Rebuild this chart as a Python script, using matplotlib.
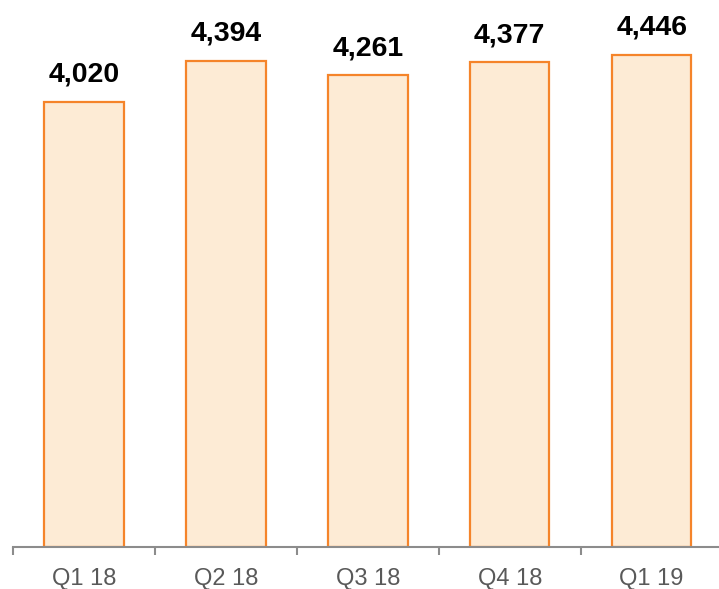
import matplotlib
matplotlib.use("Agg")
import matplotlib.pyplot as plt

categories = ["Q1 18", "Q2 18", "Q3 18", "Q4 18", "Q1 19"]
values = [4020, 4394, 4261, 4377, 4446]

W, H = 719, 589
fig = plt.figure(figsize=(W / 100, H / 100), dpi=100)
x0 = 13 / W
x1 = 722.6 / W
y0 = (H - 547) / H
ax = fig.add_axes([x0, y0, x1 - x0, 547 / H])

xs = list(range(len(categories)))
ax.bar(xs, values, width=0.56, color="#FDEBD5", edgecolor="#F5842A", linewidth=1.6, zorder=2)
ax.set_xlim(-0.5, len(categories) - 0.5)
ax.set_ylim(0, 4941)

for x, v in zip(xs, values):
    ax.annotate(f"{v:,}", (x, v), xytext=(0, 14), textcoords="offset pixels",
                ha="center", va="bottom", fontsize=20.5, fontweight="bold",
                family="Liberation Sans", color="black")

for s in ["top", "right", "left"]:
    ax.spines[s].set_visible(False)
ax.spines["bottom"].set_color("#8C8C8C")
ax.spines["bottom"].set_linewidth(1.5)
ax.set_yticks([])
ax.set_xticks([i - 0.5 for i in range(len(categories) + 1)], minor=False)
ax.set_xticklabels([])
ax.tick_params(axis="x", which="major", length=6, width=1.5, color="#8C8C8C", direction="out")
ax.set_xticks(xs, minor=True)
ax.set_xticklabels(categories, minor=True)
ax.tick_params(axis="x", which="minor", length=0, pad=15, labelsize=17, labelcolor="#595959")
for lab in ax.get_xticklabels(minor=True):
    lab.set_family("Liberation Sans")

fig.savefig("out.png", dpi=100)
